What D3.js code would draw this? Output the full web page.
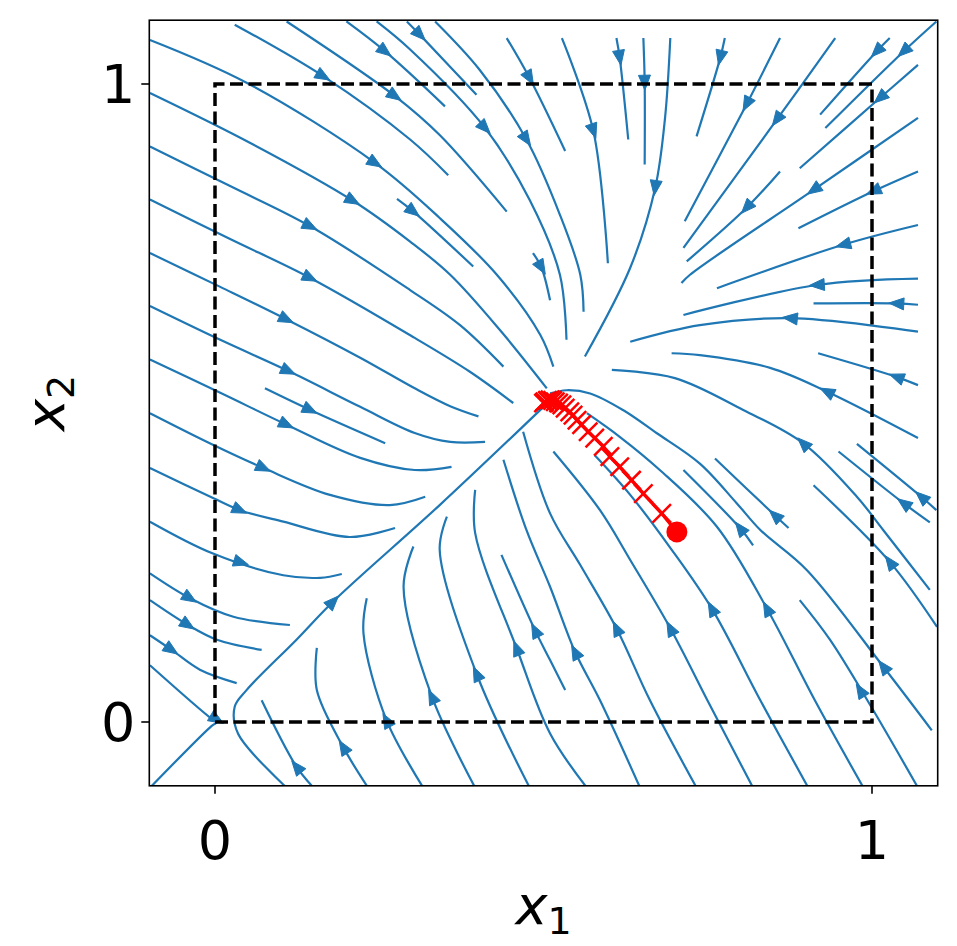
<!DOCTYPE html>
<html><head><meta charset="utf-8">
<script src="https://cdn.jsdelivr.net/npm/d3@7"></script>
<style>body{margin:0;background:#fff}svg{display:block}</style>
</head><body>
<svg id="c" width="957" height="946"></svg>
<script>
// ---------------- data ----------------
const xDomain = [-0.1, 1.1];
const yDomain = [-0.1, 1.1];
const xTicks = [0, 1];
const yTicks = [0, 1];
const xTickLabels = ["0", "1"];
const yTickLabels = ["0", "1"];
const feasibleBox = [[0, 0], [1, 0], [1, 1], [0, 1], [0, 0]];

// streamlines (ordered along the flow), a = arrow position
const upperLeftLines = [
  {p:[[-0.099,1.069],[0.048,1.002],[0.244,0.876],[0.342,0.790],[0.429,0.701],[0.495,0.607],[0.515,0.557]], a:[0.244,0.876]},
  {p:[[-0.099,0.986],[0.053,0.908],[0.210,0.817],[0.297,0.753],[0.358,0.701],[0.434,0.614],[0.505,0.523]], a:[0.210,0.817]},
  {p:[[-0.099,0.902],[0.023,0.840],[0.145,0.777],[0.297,0.677],[0.373,0.622],[0.439,0.557]], a:[0.145,0.777]},
  {p:[[-0.099,0.819],[0.023,0.757],[0.145,0.696],[0.304,0.602],[0.388,0.549],[0.454,0.500]], a:[0.145,0.696]},
  {p:[[-0.099,0.735],[0.008,0.682],[0.109,0.631],[0.221,0.571],[0.304,0.523],[0.358,0.495],[0.401,0.479]], a:[0.109,0.631]},
  {p:[[-0.099,0.652],[0.008,0.599],[0.112,0.550],[0.221,0.494],[0.304,0.453],[0.358,0.439],[0.411,0.439]], a:[0.112,0.550]},
  {p:[[-0.099,0.568],[0.008,0.516],[0.109,0.466],[0.221,0.414],[0.304,0.395],[0.360,0.400]], a:[0.109,0.466]},
  {p:[[-0.099,0.484],[-0.008,0.437],[0.074,0.398],[0.175,0.356],[0.266,0.340],[0.320,0.353]], a:[0.074,0.398]},
  {p:[[-0.099,0.398],[-0.003,0.351],[0.038,0.332],[0.104,0.314],[0.205,0.290],[0.274,0.304]], a:[0.038,0.332]},
  {p:[[-0.099,0.314],[-0.003,0.264],[0.104,0.230],[0.160,0.226],[0.193,0.232]], a:[0.040,0.250]},
  {p:[[-0.099,0.233],[-0.038,0.194],[0.028,0.165],[0.114,0.152]], a:[-0.038,0.194]},
  {p:[[-0.099,0.191],[-0.041,0.152],[0.003,0.129],[0.071,0.113]], a:[-0.041,0.152]},
  {p:[[-0.099,0.136],[-0.066,0.113],[-0.023,0.082],[0.033,0.061]], a:[-0.066,0.113]},
  {p:[[-0.099,0.089],[-0.005,0.005],[0.003,0.0],[-0.005,-0.006],[-0.099,-0.103]], a:[0.003,0.004]},
  {p:[[0.076,0.523],[0.145,0.489],[0.259,0.437]], a:[0.145,0.489]},
  {p:[[0.277,0.820],[0.302,0.800],[0.393,0.714]], a:[0.302,0.800]},
  {p:[[0.484,0.735],[0.497,0.712],[0.510,0.661]], a:[0.497,0.712]}
];
const topLines = [
  {p:[[0.030,1.093],[0.165,1.012],[0.297,0.913],[0.355,0.857]], a:[0.165,1.012]},
  {p:[[0.109,1.098],[0.274,0.981],[0.342,0.920],[0.444,0.800]], a:[0.274,0.981]},
  {p:[[0.200,1.098],[0.259,1.051],[0.350,0.965]], a:[0.259,1.051]},
  {p:[[0.246,1.098],[0.297,1.054],[0.411,0.931],[0.479,0.818],[0.525,0.701],[0.535,0.599]], a:[0.411,0.931]},
  {p:[[0.292,1.098],[0.312,1.077],[0.398,0.983]], a:[0.312,1.077]},
  {p:[[0.335,1.098],[0.403,1.022],[0.474,0.913],[0.525,0.795],[0.556,0.701],[0.561,0.643]], a:[0.474,0.913]},
  {p:[[0.444,1.072],[0.479,1.009],[0.533,0.895]], a:[0.479,1.009]},
  {p:[[0.528,1.072],[0.576,0.926],[0.598,0.719]], a:[0.576,0.926]},
  {p:[[0.611,1.072],[0.616,1.041],[0.629,0.913]], a:[0.616,1.041]},
  {p:[[0.652,1.072],[0.654,1.002],[0.654,0.874]], a:[0.654,1.002]},
  {p:[[0.693,1.072],[0.685,0.947],[0.670,0.837],[0.632,0.712],[0.563,0.573]], a:[0.670,0.837]},
  {p:[[0.776,1.072],[0.769,1.041],[0.733,0.918]], a:[0.769,1.041]},
  {p:[[0.860,1.072],[0.809,0.968],[0.715,0.785]], a:[0.809,0.968]},
  {p:[[0.944,1.072],[0.855,0.944],[0.713,0.743]], a:[0.855,0.944]},
  {p:[[1.027,1.072],[1.007,1.051],[0.921,0.952]], a:[1.007,1.051]},
  {p:[[1.098,1.098],[1.048,1.051],[0.929,0.931]], a:[1.048,1.051]}
];
const rightLines = [
  {p:[[1.070,1.030],[1.012,0.978],[0.890,0.868]], a:[1.012,0.978]},
  {p:[[1.070,0.947],[0.911,0.834],[0.723,0.701],[0.710,0.688]], a:[0.911,0.834]},
  {p:[[0.860,0.863],[0.809,0.806],[0.718,0.722]], a:[0.809,0.806]},
  {p:[[1.070,0.863],[1.002,0.832],[0.888,0.774]], a:[1.002,0.832]},
  {p:[[1.070,0.779],[0.956,0.748],[0.764,0.680]], a:[0.956,0.748]},
  {p:[[1.070,0.695],[0.916,0.685],[0.713,0.638]], a:[0.916,0.685]},
  {p:[[1.070,0.654],[1.037,0.656],[0.911,0.656]], a:[1.037,0.656]},
  {p:[[1.070,0.612],[0.875,0.633],[0.738,0.622],[0.632,0.596]], a:[0.875,0.633]},
  {p:[[1.070,0.528],[1.037,0.541],[0.918,0.578]], a:[1.037,0.541]},
  {p:[[1.070,0.445],[0.931,0.518],[0.845,0.555],[0.738,0.575],[0.695,0.578]], a:[0.931,0.518]},
  {p:[[1.088,0.207],[1.017,0.301],[0.977,0.353],[0.895,0.437],[0.804,0.489],[0.700,0.539],[0.604,0.552]], a:[0.895,0.437]},
  {p:[[1.088,0.313],[1.048,0.343],[0.949,0.424]], a:[1.048,0.343]},
  {p:[[1.098,0.332],[1.075,0.353],[0.977,0.436]], a:[1.075,0.353]},
  {p:[[1.099,0.149],[1.027,0.251],[0.911,0.371]], a:[1.027,0.251]},
  {p:[[1.091,-0.013],[1.017,0.087],[0.901,0.238],[0.830,0.301],[0.794,0.343],[0.738,0.405],[0.672,0.453],[0.621,0.489],[0.571,0.515],[0.535,0.520],[0.510,0.515]], a:[1.017,0.087]},
  {p:[[0.873,0.304],[0.852,0.324],[0.761,0.413]], a:[0.852,0.324]},
  {p:[[0.819,0.277],[0.799,0.304],[0.713,0.395]], a:[0.799,0.304]}
];
const bottomLines = [
  {p:[[0.150,-0.103],[0.124,-0.070],[0.071,0.034]], a:[0.124,-0.070]},
  {p:[[0.233,-0.103],[0.195,-0.039],[0.155,0.050],[0.155,0.116]], a:[0.195,-0.039]},
  {p:[[0.317,-0.103],[0.261,0.003],[0.226,0.139],[0.231,0.194]], a:[0.261,0.003]},
  {p:[[0.396,-0.103],[0.330,0.040],[0.287,0.212],[0.302,0.275]], a:[0.330,0.040]},
  {p:[[0.479,-0.103],[0.398,0.076],[0.342,0.270],[0.353,0.322]], a:[0.398,0.076]},
  {p:[[0.566,-0.103],[0.510,-0.018],[0.459,0.116],[0.396,0.296],[0.396,0.364]], a:[0.459,0.116]},
  {p:[[0.533,0.050],[0.510,0.097],[0.487,0.144],[0.436,0.262]], a:[0.487,0.144]},
  {p:[[0.647,-0.103],[0.586,0.034],[0.548,0.110],[0.510,0.212],[0.474,0.301],[0.439,0.411]], a:[0.548,0.110]},
  {p:[[0.733,-0.103],[0.662,0.034],[0.611,0.147],[0.556,0.246],[0.510,0.327],[0.469,0.455]], a:[0.611,0.147]},
  {p:[[0.819,-0.103],[0.753,0.027],[0.693,0.147],[0.632,0.254],[0.586,0.332],[0.515,0.424]], a:[0.693,0.147]},
  {p:[[0.903,-0.103],[0.830,0.034],[0.756,0.178],[0.693,0.273],[0.632,0.356],[0.578,0.418]], a:[0.756,0.178]},
  {p:[[0.987,-0.103],[0.913,0.034],[0.840,0.178],[0.764,0.306],[0.677,0.395],[0.616,0.447],[0.566,0.484]], a:[0.840,0.178]},
  {p:[[1.070,-0.103],[0.997,0.027],[0.936,0.129],[0.890,0.191]], a:[0.982,0.050]},
  {p:[[0.107,-0.101],[0.035,-0.018],[0.030,0.024],[0.048,0.050],[0.124,0.129],[0.180,0.189],[0.342,0.340],[0.500,0.494]], a:[0.180,0.189]}
];

// iterates of the algorithm (red)
const iterX = [0.703,0.680,0.652,0.634,0.616,0.601,0.591,0.578,0.568,0.558,0.551,0.545,0.540,0.533,0.528,0.523,0.518,0.514,0.510,0.506,0.502,0.500];
const iterY = [0.298,0.327,0.358,0.379,0.400,0.416,0.432,0.445,0.455,0.466,0.473,0.481,0.486,0.492,0.497,0.500,0.502,0.504,0.505,0.504,0.502,0.500];

// ---------------- drawing ----------------
(function(){
const pL = 149.3, pR = 937.7, pT = 20.2, pB = 785.8;
const svg = d3.select("#c");
const x = d3.scaleLinear().domain(xDomain).range([pL, pR]);
const y = d3.scaleLinear().domain(yDomain).range([pB, pT]);
const blue = "#1f77b4";

svg.append("defs").append("clipPath").attr("id","clip")
  .append("rect").attr("x",pL).attr("y",pT).attr("width",pR-pL).attr("height",pB-pT);

const g = svg.append("g").attr("clip-path","url(#clip)");
const line = d3.line().x(d=>x(d[0])).y(d=>y(d[1])).curve(d3.curveCatmullRom.alpha(0.5));

const allLines = [].concat(upperLeftLines, topLines, rightLines, bottomLines);
g.selectAll("path.sl").data(allLines).join("path").attr("class","sl")
  .attr("d", d=>line(d.p)).attr("fill","none").attr("stroke",blue).attr("stroke-width",2.2);

function arrowPath(d){
  const ax = x(d.a[0]), ay = y(d.a[1]);
  let best = 0, bd = Infinity;
  for (let i=0;i<d.p.length-1;i++){
    const x0=x(d.p[i][0]), y0=y(d.p[i][1]), x1=x(d.p[i+1][0]), y1=y(d.p[i+1][1]);
    const dx=x1-x0, dy=y1-y0, L=dx*dx+dy*dy;
    let t = L>0 ? ((ax-x0)*dx+(ay-y0)*dy)/L : 0; t=Math.max(0,Math.min(1,t));
    const px=x0+t*dx, py=y0+t*dy, dd=(px-ax)**2+(py-ay)**2;
    if (dd<bd){bd=dd;best=i;}
  }
  const i=best;
  let dx = x(d.p[i+1][0])-x(d.p[i][0]), dy = y(d.p[i+1][1])-y(d.p[i][1]);
  const n = Math.hypot(dx,dy)||1; dx/=n; dy/=n;
  const Lh = 15, hw = 6;
  const tipx = ax+dx*Lh*0.5, tipy = ay+dy*Lh*0.5;
  const bx = ax-dx*Lh*0.5, by = ay-dy*Lh*0.5;
  return `M${tipx},${tipy}L${bx-dy*hw},${by+dx*hw}L${bx+dy*hw},${by-dx*hw}Z`;
}
g.selectAll("path.ar").data(allLines).join("path").attr("class","ar")
  .attr("d", arrowPath).attr("fill",blue).attr("stroke",blue).attr("stroke-width",1);

svg.append("path").attr("d", d3.line().x(d=>x(d[0])).y(d=>y(d[1]))(feasibleBox))
  .attr("fill","none").attr("stroke","#000").attr("stroke-width",3.5).attr("stroke-dasharray","13 5.5");

const iters = iterX.map((v,i)=>[v,iterY[i]]);
svg.append("path").attr("d", d3.line().x(d=>x(d[0])).y(d=>y(d[1]))(iters))
  .attr("fill","none").attr("stroke","#ff0000").attr("stroke-width",3.5);
const ms = 13;
svg.selectAll("path.mk").data(iters.slice(1)).join("path").attr("class","mk")
  .attr("d", d=>{const cx=x(d[0]), cy=y(d[1]); const h=ms*0.707; return `M${cx-h},${cy-h}L${cx+h},${cy+h}M${cx-h},${cy+h}L${cx+h},${cy-h}`;})
  .attr("stroke","#ff0000").attr("stroke-width",2.5).attr("fill","none");
svg.append("circle").attr("cx",x(iters[0][0])).attr("cy",y(iters[0][1])).attr("r",10.5).attr("fill","#ff0000");

svg.append("rect").attr("x",pL).attr("y",pT).attr("width",pR-pL).attr("height",pB-pT)
  .attr("fill","none").attr("stroke","#000").attr("stroke-width",1.6);

const font = "DejaVu Sans, sans-serif";
xTicks.forEach((t,i)=>{
  svg.append("line").attr("x1",x(t)).attr("x2",x(t)).attr("y1",pB).attr("y2",pB+8).attr("stroke","#000").attr("stroke-width",1.6);
  svg.append("text").attr("x",x(t)).attr("y",pB+73).attr("text-anchor","middle")
    .attr("font-family",font).attr("font-size",54).text(xTickLabels[i]);
});
yTicks.forEach((t,i)=>{
  svg.append("line").attr("x1",pL-8).attr("x2",pL).attr("y1",y(t)).attr("y2",y(t)).attr("stroke","#000").attr("stroke-width",1.6);
  svg.append("text").attr("x",pL-14).attr("y",y(t)).attr("dy","0.36em").attr("text-anchor","end")
    .attr("font-family",font).attr("font-size",54).text(yTickLabels[i]);
});

const xl = svg.append("text").attr("x",(pL+pR)/2).attr("y",924).attr("text-anchor","middle")
  .attr("font-family",font).attr("font-size",54);
xl.append("tspan").attr("font-style","italic").text("x");
xl.append("tspan").attr("font-size",38).attr("dy",10).text("1");
const yl = svg.append("text").attr("transform",`translate(64,${(pT+pB)/2}) rotate(-90)`).attr("text-anchor","middle")
  .attr("font-family",font).attr("font-size",54);
yl.append("tspan").attr("font-style","italic").text("x");
yl.append("tspan").attr("font-size",38).attr("dy",10).text("2");
})();
</script>
</body></html>
